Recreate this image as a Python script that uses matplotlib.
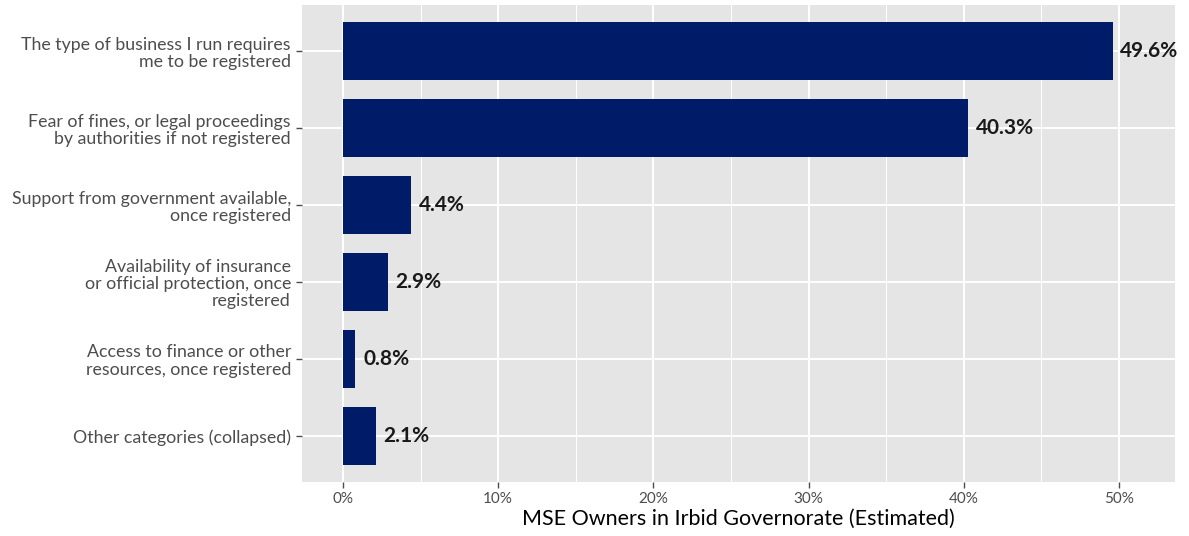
import numpy as np
import matplotlib.pyplot as plt
from matplotlib.ticker import MultipleLocator, FuncFormatter

categories = [
    "The type of business I run requires\nme to be registered",
    "Fear of fines, or legal proceedings\nby authorities if not registered",
    "Support from government available,\nonce registered",
    "Availability of insurance\nor official protection, once\nregistered",
    "Access to finance or other\nresources, once registered",
    "Other categories (collapsed)",
]
values = [49.6, 40.3, 4.4, 2.9, 0.8, 2.1]
xlabel = "MSE Owners in Irbid Governorate (Estimated)"

plt.rcParams['font.family'] = ['Lato', 'DejaVu Sans']

fig = plt.figure(figsize=(11.89, 5.36), dpi=100)
ax = fig.add_axes([0.254, 0.1007, 0.734, 0.89])
ax.set_facecolor('#E5E5E5')

y = np.arange(len(categories))
ax.barh(y, values, height=0.75, color='#001C68', zorder=3)
for yi, v in zip(y, values):
    ax.text(v + 0.5, yi, f"{v:.1f}%", va='center', ha='left',
            fontsize=15, fontweight='bold', color='#1a1a1a', zorder=4)

ax.set_xlim(-2.64, 53.6)
ax.set_ylim(len(categories) - 0.4, -0.6)
ax.set_yticks(y)
ax.set_yticklabels(categories, fontsize=12.8, color='#4D4D4D', linespacing=1.1)
ax.xaxis.set_major_locator(MultipleLocator(10))
ax.xaxis.set_minor_locator(MultipleLocator(5))
ax.xaxis.set_major_formatter(FuncFormatter(lambda x, p: f"{x:.0f}%"))
ax.tick_params(axis='x', which='major', labelsize=11, labelcolor='#4D4D4D',
               color='#4D4D4D', length=4, width=1)
ax.tick_params(axis='x', which='minor', length=0)
ax.tick_params(axis='y', color='#4D4D4D', length=4, width=1, pad=4)

ax.grid(axis='x', which='major', color='white', linewidth=1.4, zorder=0)
ax.grid(axis='x', which='minor', color='white', linewidth=0.7, zorder=0)
ax.grid(axis='y', which='major', color='white', linewidth=1.4, zorder=0)
ax.set_axisbelow(True)
for s in ax.spines.values():
    s.set_visible(False)

ax.set_xlabel(xlabel, fontsize=15.5, color='black', labelpad=2)

fig.savefig('out.png', dpi=100)
